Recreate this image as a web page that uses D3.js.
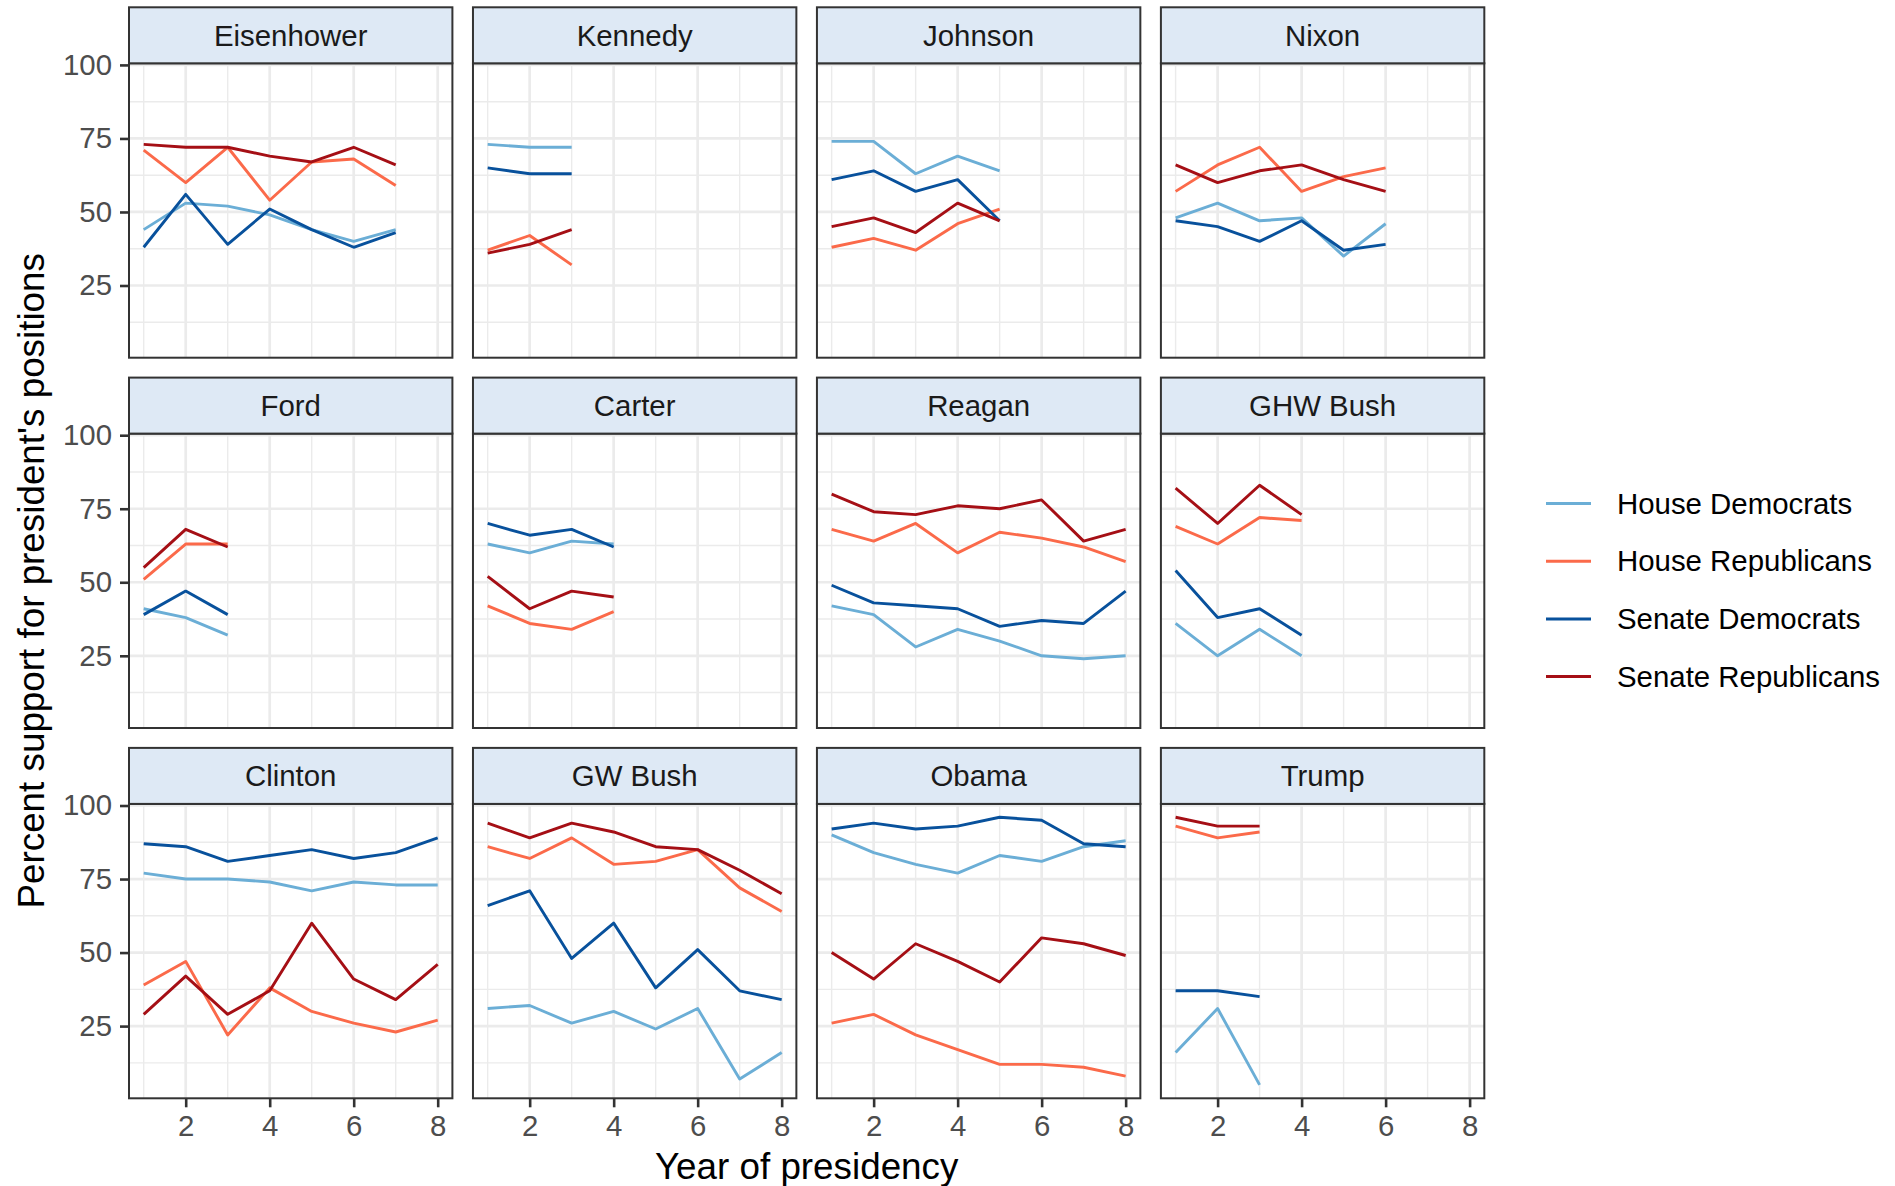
<!DOCTYPE html>
<html>
<head>
<meta charset="utf-8">
<script src="https://cdn.jsdelivr.net/npm/d3@7"></script>
<style>
  html, body { margin: 0; padding: 0; background: #fff; }
  svg { display: block; font-family: "Liberation Sans", Arial, Helvetica, sans-serif; }
</style>
</head>
<body>
<svg id="chart" width="1895" height="1186"></svg>
<script>
// ---------------- data ----------------
const presidents = ["Eisenhower","Kennedy","Johnson","Nixon","Ford","Carter","Reagan","GHW Bush","Clinton","GW Bush","Obama","Trump"];
const seriesNames = ["House Democrats","House Republicans","Senate Democrats","Senate Republicans"];
const seriesColors = ["#6BAED6","#FB6A4A","#08519C","#A50F15"];
const yTickValues = [25, 50, 75, 100];
const xTickValues = [2, 4, 6, 8];

const houseDemocrats = [
  [44,53,52,49,44,40,44],
  [73,72,72],
  [74,74,63,69,64],
  [48,53,47,48,35,46],
  [41,38,32],
  [63,60,64,63],
  [42,39,28,34,30,25,24,25],
  [36,25,34,25],
  [77,75,75,74,71,74,73,73],
  [31,32,26,30,24,31,7,16],
  [90,84,80,77,83,81,86,88],
  [16,31,5]
];
const houseRepublicans = [
  [71,60,72,54,67,68,59],
  [37,42,32],
  [38,41,37,46,51],
  [57,66,72,57,62,65],
  [51,63,63],
  [42,36,34,40],
  [68,64,70,60,67,65,62,57],
  [69,63,72,71],
  [39,47,22,38,30,26,23,27],
  [86,82,89,80,81,85,72,64],
  [26,29,22,17,12,12,11,8],
  [93,89,91]
];
const senateDemocrats = [
  [38,56,39,51,44,38,43],
  [65,63,63],
  [61,64,57,61,47],
  [47,45,40,47,37,39],
  [39,47,39],
  [70,66,68,62],
  [49,43,42,41,35,37,36,47],
  [54,38,41,32],
  [87,86,81,83,85,82,84,89],
  [66,71,48,60,38,51,37,34],
  [92,94,92,93,96,95,87,86],
  [37,37,35]
];
const senateRepublicans = [
  [73,72,72,69,67,72,66],
  [36,39,44],
  [45,48,43,53,47],
  [66,60,64,66,61,57],
  [55,68,62],
  [52,41,47,45],
  [80,74,73,76,75,78,64,68],
  [82,70,83,73],
  [29,42,29,37,60,41,34,46],
  [94,89,94,91,86,85,78,70],
  [50,41,53,47,40,55,53,49],
  [96,93,93]
];
const allSeries = [houseDemocrats, houseRepublicans, senateDemocrats, senateRepublicans];

// ---------------- layout ----------------
const svg = d3.select("#chart");
const nCols = 4;
const panelLeft0 = 129, panelW = 323.4, colGap = 20.57;
const stripTop0 = 7.3, stripH = 56, panelH = 294.4, rowStep = 370.3;
const fontSmall = 29.4, fontTitle = 36.8;
const gridCol = "#EBEBEB", borderCol = "#333333";

// scales (ggplot-style 5% expansion)
const allVals = allSeries.flat(2);
const yMin = d3.min(allVals), yMax = d3.max(allVals);
const yPad = (yMax - yMin) * 0.05;
const y = d3.scaleLinear().domain([yMin - yPad, yMax + yPad]).range([panelH, 0]);
const xPad = (8 - 1) * 0.05;
const x = d3.scaleLinear().domain([1 - xPad, 8 + xPad]).range([0, panelW]);

const yMinor = [12.5, 37.5, 62.5, 87.5];
const xMinor = [1, 3, 5, 7];

const line = d3.line().x((d, i) => x(i + 1)).y(d => y(d));

presidents.forEach((name, p) => {
  const col = p % nCols, row = Math.floor(p / nCols);
  const px = panelLeft0 + col * (panelW + colGap);
  const sy = stripTop0 + row * rowStep;
  const py = sy + stripH;
  const g = svg.append("g").attr("transform", `translate(${px},${py})`);

  g.append("rect").attr("width", panelW).attr("height", panelH).attr("fill", "#fff");

  // minor grid
  g.selectAll(".ymin").data(yMinor).enter().append("line")
    .attr("x1", 0).attr("x2", panelW).attr("y1", d => y(d)).attr("y2", d => y(d))
    .attr("stroke", gridCol).attr("stroke-width", 1.4);
  g.selectAll(".xmin").data(xMinor).enter().append("line")
    .attr("y1", 0).attr("y2", panelH).attr("x1", d => x(d)).attr("x2", d => x(d))
    .attr("stroke", gridCol).attr("stroke-width", 1.4);
  // major grid
  g.selectAll(".ymaj").data(yTickValues).enter().append("line")
    .attr("x1", 0).attr("x2", panelW).attr("y1", d => y(d)).attr("y2", d => y(d))
    .attr("stroke", gridCol).attr("stroke-width", 2.7);
  g.selectAll(".xmaj").data(xTickValues).enter().append("line")
    .attr("y1", 0).attr("y2", panelH).attr("x1", d => x(d)).attr("x2", d => x(d))
    .attr("stroke", gridCol).attr("stroke-width", 2.7);

  // lines
  allSeries.forEach((series, s) => {
    g.append("path").datum(series[p])
      .attr("d", line)
      .attr("fill", "none")
      .attr("stroke", seriesColors[s])
      .attr("stroke-width", 2.9)
      .attr("stroke-linejoin", "round")
      .attr("stroke-linecap", "butt");
  });

  // panel border
  g.append("rect").attr("width", panelW).attr("height", panelH)
    .attr("fill", "none").attr("stroke", borderCol).attr("stroke-width", 2);

  // strip
  const sg = svg.append("g").attr("transform", `translate(${px},${sy})`);
  sg.append("rect").attr("width", panelW).attr("height", stripH)
    .attr("fill", "#DEE9F5").attr("stroke", borderCol).attr("stroke-width", 2);
  sg.append("text").attr("x", panelW / 2).attr("y", stripH / 2).attr("dy", "0.35em")
    .attr("text-anchor", "middle").attr("font-size", fontSmall).attr("fill", "#1A1A1A")
    .text(name);

  // y axis on first column
  if (col === 0) {
    const ya = g.append("g").call(d3.axisLeft(y).tickValues(yTickValues).tickSize(9).tickPadding(8));
    ya.select(".domain").remove();
    ya.selectAll(".tick line").attr("stroke", borderCol).attr("stroke-width", 2.6);
    ya.selectAll(".tick text").attr("font-size", fontSmall).attr("fill", "#4D4D4D")
      .attr("font-family", "Liberation Sans, Arial, sans-serif");
  }
  // x axis on last row
  if (row === 2) {
    const xa = g.append("g").attr("transform", `translate(0,${panelH})`)
      .call(d3.axisBottom(x).tickValues(xTickValues).tickSize(9).tickPadding(8));
    xa.select(".domain").remove();
    xa.selectAll(".tick line").attr("stroke", borderCol).attr("stroke-width", 2.6);
    xa.selectAll(".tick text").attr("font-size", fontSmall).attr("fill", "#4D4D4D")
      .attr("font-family", "Liberation Sans, Arial, sans-serif");
  }
});

// axis titles
const panelsRight = panelLeft0 + 4 * panelW + 3 * colGap;
const panelsTop = stripTop0 + stripH;
const panelsBottom = stripTop0 + 2 * rowStep + stripH + panelH;
svg.append("text")
  .attr("x", (panelLeft0 + panelsRight) / 2).attr("y", 1179)
  .attr("text-anchor", "middle").attr("font-size", fontTitle).attr("fill", "#000")
  .text("Year of presidency");
const yTitleY = (panelsTop + panelsBottom) / 2;
svg.append("text")
  .attr("transform", `translate(43.5,${yTitleY}) rotate(-90)`)
  .attr("text-anchor", "middle").attr("font-size", fontTitle).attr("fill", "#000")
  .text("Percent support for president's positions");

// legend
const legendY0 = 503.5, legendStep = 57.7;
const lg = svg.append("g");
seriesNames.forEach((nm, i) => {
  const ly = legendY0 + i * legendStep;
  lg.append("line").attr("x1", 1546).attr("x2", 1591).attr("y1", ly).attr("y2", ly)
    .attr("stroke", seriesColors[i]).attr("stroke-width", 3);
  lg.append("text").attr("x", 1617).attr("y", ly).attr("dy", "0.35em")
    .attr("font-size", fontSmall).attr("fill", "#000").text(nm);
});
</script>
</body>
</html>
